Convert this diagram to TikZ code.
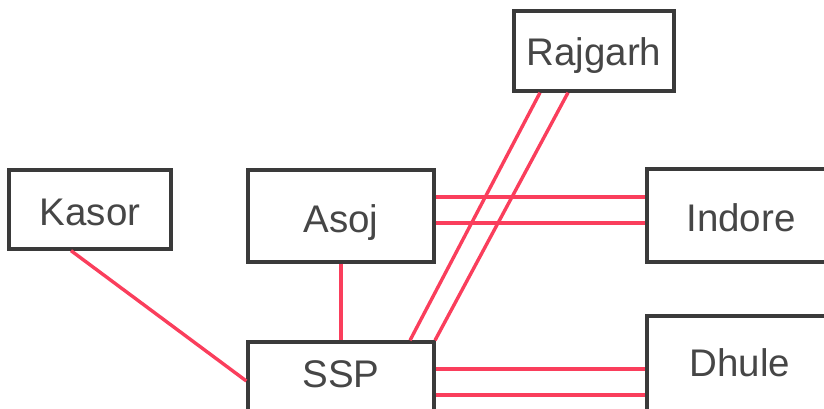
\documentclass[tikz,border=0pt]{standalone}
\usepackage{fontspec}
\setmainfont{Liberation Sans}
\definecolor{linkred}{RGB}{250,62,92}
\definecolor{boxgray}{RGB}{58,58,58}
\definecolor{txtgray}{RGB}{70,70,70}
\begin{document}
\begin{tikzpicture}[x=1pt,y=-1pt,
  box/.style={draw=boxgray,line width=3.3pt,rectangle,inner sep=0pt,fill=white,
    text=txtgray,font=\fontsize{38.5}{44}\selectfont},
  link/.style={draw=linkred,line width=3.4pt}]
\useasboundingbox (0,0) rectangle (824,408);
\clip (0,0) rectangle (824,408);
\node[box,minimum width=160pt,minimum height=80pt,text height=54pt,text depth=26pt] (rajgarh) at (594,51) {Rajgarh};
\node[box,minimum width=162pt,minimum height=79pt,text height=55pt,text depth=24pt] (kasor) at (90,209.5) {Kasor};
\node[box,minimum width=186pt,minimum height=92pt,text height=62pt,text depth=30pt] (asoj) at (341,216) {Asoj};
\node[box,minimum width=186pt,minimum height=78pt,text height=45pt,text depth=33pt] (ssp) at (341,381) {SSP};
\node[box,minimum width=188pt,minimum height=93pt,text height=62pt,text depth=31pt] (indore) at (741,215.5) {Indore};
\node[box,minimum width=186pt,minimum height=104pt,text height=60pt,text depth=44pt] (dhule) at (740,368) {Dhule};
% connectors
\draw[link] (kasor.south -| 71,0) -- (ssp.west);
\draw[link] (asoj.south) -- (ssp.north);
\draw[link] (asoj.east |- 0,197) -- (indore.west |- 0,197);
\draw[link] (asoj.east |- 0,223) -- (indore.west |- 0,223);
\draw[link] (ssp.east |- 0,369) -- (dhule.west |- 0,369);
\draw[link] (ssp.east |- 0,395) -- (dhule.west |- 0,395);
\draw[link] (rajgarh.south -| 540,0) -- (ssp.north -| 410,0);
\draw[link] (rajgarh.south -| 568,0) -- (ssp.north -| 435,0);
\end{tikzpicture}
\end{document}
